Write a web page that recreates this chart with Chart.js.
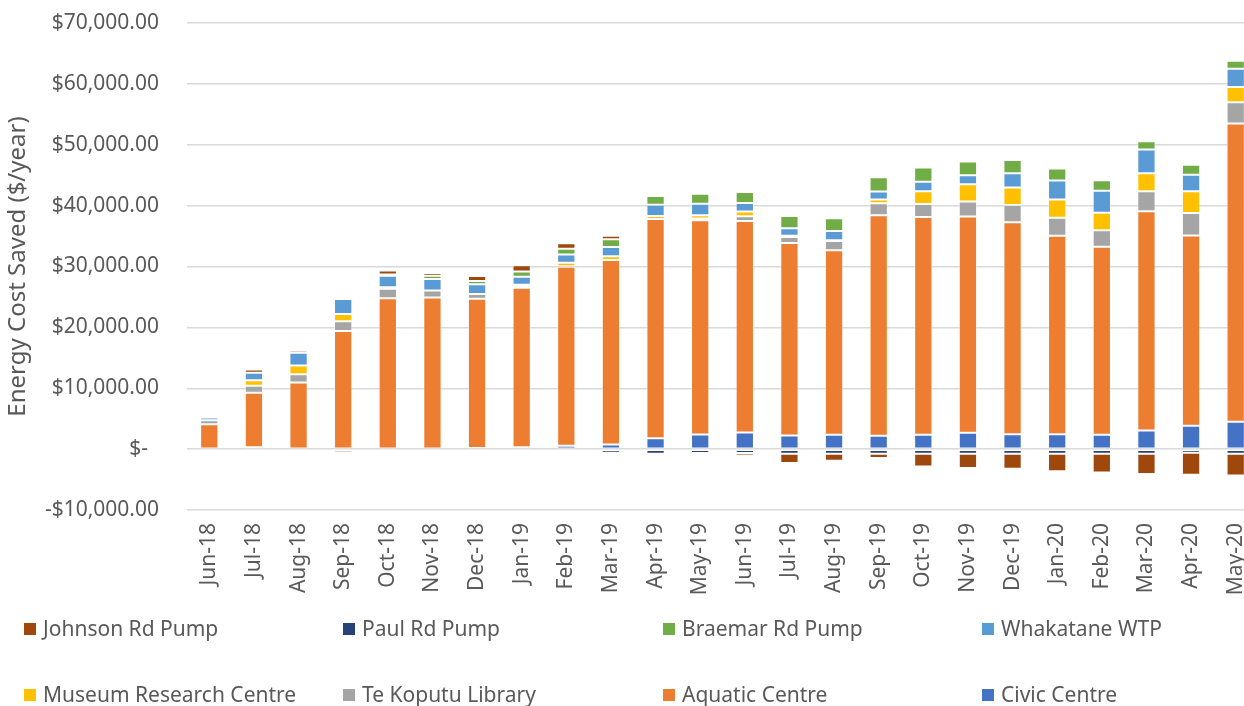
<!DOCTYPE html>
<html>
<head>
<meta charset="utf-8">
<script src="https://cdn.jsdelivr.net/npm/chart.js@4/dist/chart.umd.min.js"></script>
<style>
  body { margin: 0; background: #fff; }
  #wrap { position: relative; width: 1244px; height: 706px; overflow: hidden; }
  #chart { position: absolute; left: 0; top: 0; }
  .leg { position: absolute; font: 21px "Noto Sans", sans-serif; color: #595959; white-space: nowrap; line-height: 1; }
  .leg span { position: absolute; width: 12px; height: 12px; }
</style>
</head>
<body>
<div id="wrap">
  <!-- the plot runs a little past the right edge of the picture, as in the original -->
  <canvas id="chart" width="1258" height="706"></canvas>
</div>
<script>
// months shown on the x axis
const months = ['Jun-18', 'Jul-18', 'Aug-18', 'Sep-18', 'Oct-18', 'Nov-18', 'Dec-18', 'Jan-19',
    'Feb-19', 'Mar-19', 'Apr-19', 'May-19', 'Jun-19', 'Jul-19', 'Aug-19', 'Sep-19',
    'Oct-19', 'Nov-19', 'Dec-19', 'Jan-20', 'Feb-20', 'Mar-20', 'Apr-20', 'May-20'];

// energy cost saved per site ($/year)
const civicCentre = [100, 300, 0, 0, 0, 0, 200, 300, 550, 770, 1800, 2400, 2740, 2240, 2350, 2200, 2350, 2700, 2460, 2460, 2350, 3060, 3830, 4500];
const aquaticCentre = [4000, 8950, 10950, 19400, 24800, 24900, 24500, 26200, 29400, 30300, 36000, 35200, 34750, 31600, 30300, 36200, 35800, 35500, 34800, 32600, 30900, 36000, 31250, 49000];
const teKoputuLibrary = [650, 1150, 1370, 1600, 1530, 1150, 770, 250, 100, 0, 0, 270, 770, 1000, 1530, 2000, 2130, 2460, 2850, 2960, 2700, 3300, 3700, 3500];
const museumResearch = [0, 930, 1420, 1200, 270, -150, 0, 250, 550, 600, 500, 550, 770, 200, 150, 600, 2100, 2850, 2850, 3000, 2900, 2960, 3600, 2500];
const whakataneWTP = [450, 1200, 2080, 2460, 1900, 1900, 1600, 1300, 1370, 1530, 1860, 1900, 1420, 1260, 1500, 1300, 1530, 1480, 2350, 3100, 3600, 3900, 2700, 3000];
const braemarRdPump = [0, 0, 0, 100, 200, 550, 550, 880, 930, 1260, 1420, 1640, 1800, 2000, 2100, 2350, 2350, 2240, 2200, 1970, 1700, 1370, 1640, 1300];
const paulRdPump = [0, 0, -150, 0, -50, -300, -300, -350, -300, -600, -750, -650, -650, -770, -770, -770, -770, -770, -770, -770, -770, -770, -600, -770];
const johnsonRdPump = [-300, 550, 380, -500, 660, 440, 820, 1040, 930, 600, 330, -300, -400, -1500, -1150, -700, -2100, -2350, -2460, -2850, -3050, -3300, -3600, -3560];

const yTicks = [-10000, 0, 10000, 20000, 30000, 40000, 50000, 60000, 70000];

const series = [
    { label: 'Civic Centre', data: civicCentre, color: '#4472C4' },
    { label: 'Aquatic Centre', data: aquaticCentre, color: '#ED7D31' },
    { label: 'Te Koputu Library', data: teKoputuLibrary, color: '#A5A5A5' },
    { label: 'Museum Research Centre', data: museumResearch, color: '#FFC000' },
    { label: 'Whakatane WTP', data: whakataneWTP, color: '#5B9BD5' },
    { label: 'Braemar Rd Pump', data: braemarRdPump, color: '#70AD47' },
    { label: 'Paul Rd Pump', data: paulRdPump, color: '#264478' },
    { label: 'Johnson Rd Pump', data: johnsonRdPump, color: '#9E480E' }
];

function formatMoney(v) {
    if (v === 0) return '$-  ';
    const s = '$' + Math.abs(v).toLocaleString('en-US', { minimumFractionDigits: 2, maximumFractionDigits: 2 });
    return v < 0 ? '-' + s : s;
}

const textColor = '#595959';
const fontFamily = '"Noto Sans", sans-serif';

const chart = new Chart(document.getElementById('chart'), {
    type: 'bar',
    data: {
        labels: months,
        datasets: series.map(s => ({
            label: s.label,
            data: s.data,
            backgroundColor: s.color,
            borderColor: 'rgba(255,255,255,0.45)',
            borderWidth: 1,
            borderSkipped: false,
            categoryPercentage: 0.41,
            barPercentage: 1
        }))
    },
    options: {
        responsive: false,
        animation: false,
        layout: { padding: { top: 23, right: 0, left: 0, bottom: 0 } },
        scales: {
            x: {
                stacked: true,
                grid: { display: false, drawTicks: false },
                border: { display: false },
                ticks: { color: textColor, font: { family: fontFamily, size: 21 }, minRotation: 90, maxRotation: 90, padding: 13 },
                afterFit: s => { s.height = 196; s.paddingTop = 0; s.paddingBottom = 0; s.paddingLeft = 0; s.paddingRight = 0; }
            },
            y: {
                stacked: true,
                min: -10000,
                max: 70000,
                afterBuildTicks: s => { s.ticks = yTicks.map(v => ({ value: v })); },
                grid: { color: '#d9d9d9', lineWidth: 1.5, drawTicks: false },
                border: { display: false },
                ticks: { color: textColor, font: { family: fontFamily, size: 21 }, padding: 28, callback: v => formatMoney(v) },
                title: { display: true, text: 'Energy Cost Saved ($/year)', color: textColor, font: { family: fontFamily, size: 24 }, padding: { top: 4, bottom: 0 } },
                afterFit: s => { s.width = 187; s.paddingTop = 0; s.paddingBottom = 0; }
            }
        },
        plugins: {
            legend: { display: false },
            tooltip: { enabled: false }
        }
    }
});

// legend in the same 4 x 2 grid as the original, listed in reverse stacking order
const legendCols = [24, 343, 663, 982];
const legendRows = [629, 695];
const wrap = document.getElementById('wrap');
chart.data.datasets.slice().reverse().forEach((ds, i) => {
    const item = document.createElement('div');
    item.className = 'leg';
    item.style.left = legendCols[i % 4] + 'px';
    item.style.top = (legendRows[Math.floor(i / 4)] - 11) + 'px';
    item.innerHTML = '<span style="left:0;top:5px;background:' + ds.backgroundColor + '"></span>';
    const txt = document.createElement('div');
    txt.style.marginLeft = '19px';
    txt.textContent = ds.label;
    item.appendChild(txt);
    wrap.appendChild(item);
});
</script>
</body>
</html>
